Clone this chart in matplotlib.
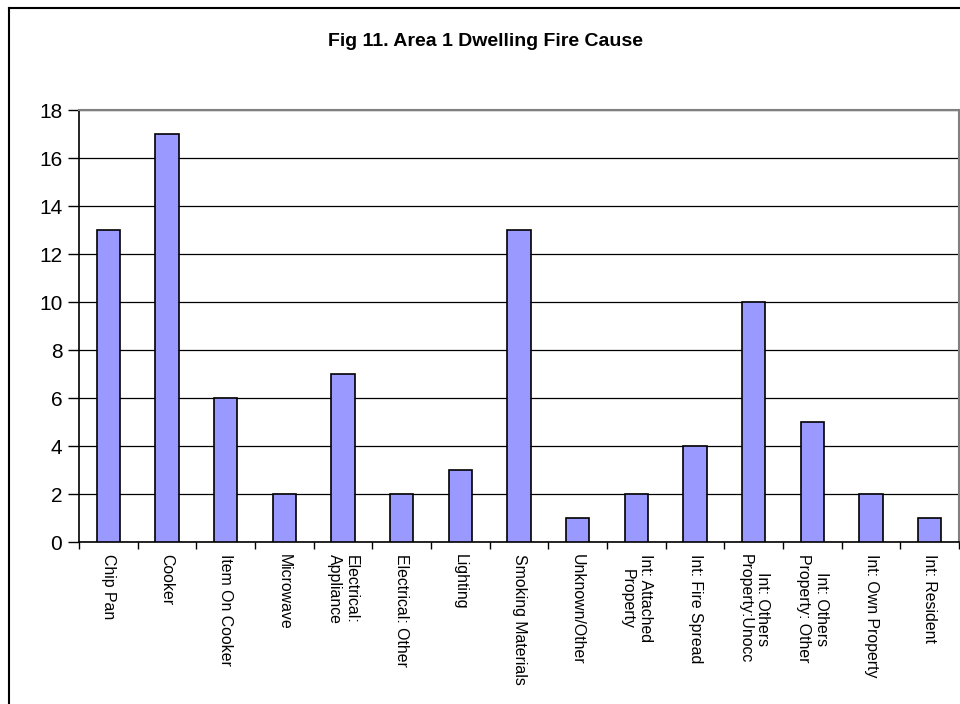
import numpy as np
from matplotlib import pyplot as plt
from matplotlib.lines import Line2D

causes = ["Chip Pan", "Cooker", "Item On Cooker", "Microwave",
          "Electrical:\nAppliance", "Electrical: Other", "Lighting",
          "Smoking Materials", "Unknown/Other", "Int: Attached\nProperty",
          "Int: Fire Spread", "Int: Others\nProperty:Unocc",
          "Int: Others\nProperty: Other", "Int: Own Property", "Int: Resident"]
counts = [13, 17, 6, 2, 7, 2, 3, 13, 1, 2, 4, 10, 5, 2, 1]
y_ticks = [0, 2, 4, 6, 8, 10, 12, 14, 16, 18]

plt.rcParams['font.family'] = ['Liberation Sans', 'DejaVu Sans']

fig = plt.figure(figsize=(9.6, 7.04), dpi=100)
ax = fig.add_axes([79/960, 1 - 542/704, 880/960, 432/704])

x = np.arange(len(causes))
ax.bar(x, counts, width=0.4, color='#9999ff', edgecolor='black', linewidth=1.2, zorder=3)

ax.set_xlim(-0.5, len(causes) - 0.5)
ax.set_ylim(0, 18)
ax.set_yticks(y_ticks)
ax.tick_params(axis='y', labelsize=15, length=8, width=1, direction='out', pad=4)
ax.grid(axis='y', color='black', linewidth=0.9, zorder=0)

ax.set_xticks(x)
ax.set_xticklabels(causes, rotation=270, fontsize=11.4, va='top', ha='center',
                   multialignment='center')
ax.tick_params(axis='x', which='major', length=0, pad=9)
ax.set_xticks(np.arange(len(causes) + 1) - 0.5, minor=True)
ax.tick_params(axis='x', which='minor', length=5, width=1, direction='out')

for s in ['left', 'bottom']:
    ax.spines[s].set_color('black')
    ax.spines[s].set_linewidth(1.2)
for s in ['top', 'right']:
    ax.spines[s].set_color('#808080')
    ax.spines[s].set_linewidth(1.5)

fig.text(0.506, 1 - 42/704, "Fig 11. Area 1 Dwelling Fire Cause", ha='center', va='center',
         fontsize=14, fontweight='bold')

# outer chart frame (cut off at right and bottom)
fig.add_artist(Line2D([9/960, 9/960], [0, 1 - 8/704], color='black', linewidth=1.5,
                      transform=fig.transFigure))
fig.add_artist(Line2D([9/960, 1], [1 - 8/704, 1 - 8/704], color='black', linewidth=1.5,
                      transform=fig.transFigure))

fig.savefig("out.png", dpi=100)
